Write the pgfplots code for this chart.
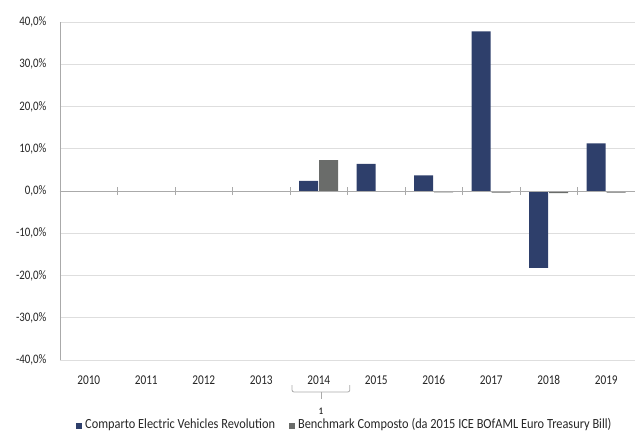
\documentclass[border=0pt]{standalone}
\usepackage{pgfplots}
\pgfplotsset{compat=1.18}
\usepackage{fontspec}
\setmainfont[FakeStretch=0.84]{Carlito}
\newfontfamily\legfont[FakeStretch=0.885]{Carlito}
\definecolor{evblue}{RGB}{46,63,107}
\definecolor{bgrey}{RGB}{106,108,106}
\definecolor{gridc}{RGB}{222,222,222}
\definecolor{axc}{RGB}{170,170,170}
\begin{document}
\begin{tikzpicture}
\path[use as bounding box] (-60bp,-72bp) rectangle (575bp,360bp);
\begin{axis}[
  at={(0,0)}, anchor=south west,
  scale only axis, width=575bp, height=338bp,
  xmin=-0.5, xmax=9.5, ymin=-40, ymax=40,
  ytick={-40,-30,...,40},
  yticklabel={\pgfmathprintnumber[fixed,fixed zerofill,precision=1,use comma]{\tick}\%},
  /pgf/number format/assume math mode=true,
  xtick={0,...,9},
  xticklabels={2010,2011,2012,2013,2014,2015,2016,2017,2018,2019},
  x tick label style={yshift=-8bp, font=\fontsize{13.5}{14}\selectfont},
  y tick label style={xshift=-10bp, font=\fontsize{13}{14}\selectfont},
  tick style={draw=none},
  ymajorgrids, grid style={gridc, line width=0.8pt},
  axis line style={axc},
  axis x line*=bottom, axis y line*=left,
  x axis line style={draw=none},
  ybar, bar width=19bp,
  tick label style={text=black!85},
  clip=false,
]
\addplot[draw=none, fill=evblue, bar shift=-10bp] coordinates {
 (4,2.4) (5,6.4) (6,3.7) (7,37.8) (8,-18.2) (9,11.3)};
\addplot[draw=none, fill=bgrey, bar shift=10bp] coordinates {
 (4,7.3) (5,-0.1) (6,-0.3) (7,-0.4) (8,-0.5) (9,-0.4)};
\draw[axc, line width=0.8pt] (axis cs:-0.5,0) -- (axis cs:9.5,0);
\pgfplotsinvokeforeach{0.5,1.5,...,8.5}{
  \draw[axc, line width=0.6pt] ([yshift=-4bp]axis cs:#1,0) -- ([yshift=4bp]axis cs:#1,0);
}
\draw[axc, line width=0.8pt, rounded corners=2bp]
  ([yshift=-25bp]axis cs:3.535,-40) -- ([yshift=-32bp]axis cs:3.535,-40)
  -- ([yshift=-32bp]axis cs:4.54,-40) -- ([yshift=-25bp]axis cs:4.54,-40);
\draw[axc, line width=0.8pt] ([yshift=-32bp]axis cs:4.04,-40) -- ([yshift=-39bp]axis cs:4.04,-40);
\node[font=\fontsize{10}{10}\selectfont\bfseries, text=black!80] at ([yshift=-51bp]axis cs:4.04,-40) {1};
\end{axis}
\node[anchor=west, font=\legfont\fontsize{14}{14}\selectfont, text=black!85, inner sep=0pt] at (16bp,-65bp)
  {\textcolor{evblue}{\rule{6bp}{6bp}}\hspace{3bp}Comparto Electric Vehicles Revolution\hspace{14bp}\textcolor{bgrey}{\rule{6bp}{6bp}}\hspace{3bp}Benchmark Composto (da 2015 ICE BOfAML Euro Treasury Bill)};
\end{tikzpicture}
\end{document}
